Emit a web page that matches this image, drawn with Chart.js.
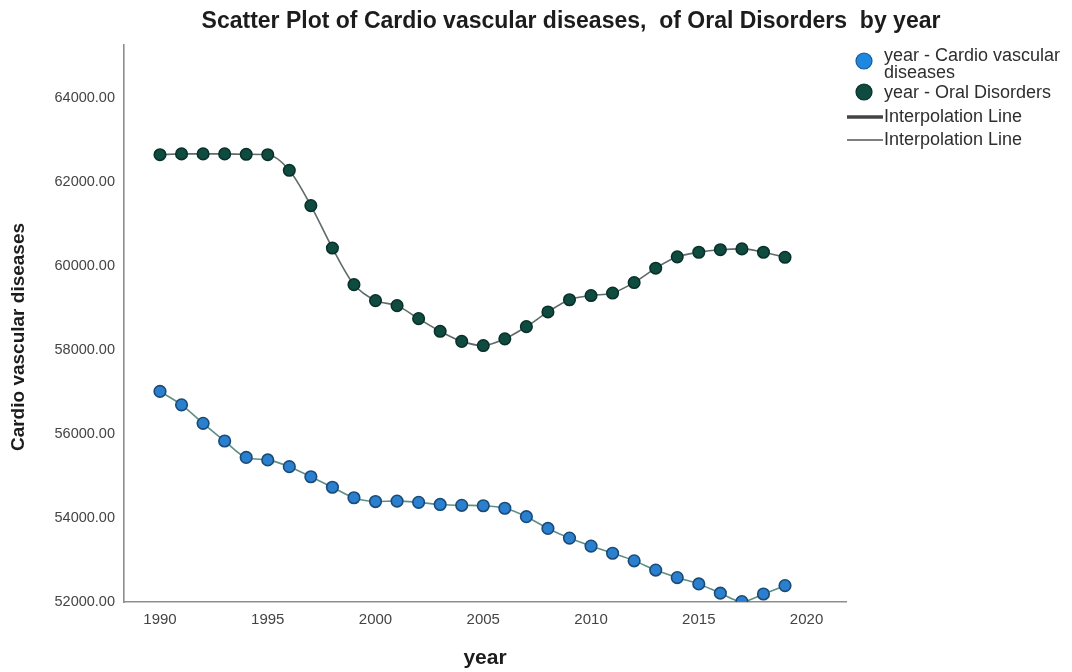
<!DOCTYPE html>
<html>
<head>
<meta charset="utf-8">
<script src="https://cdn.jsdelivr.net/npm/chart.js@4.4.1/dist/chart.umd.min.js"></script>
<style>
html,body{margin:0;padding:0;background:#ffffff;}
canvas{display:block;}
</style>
</head>
<body>
<canvas id="c" width="1072" height="672"></canvas>
<script>
// ---- data ----
const years = [1990,1991,1992,1993,1994,1995,1996,1997,1998,1999,2000,2001,2002,2003,2004,2005,2006,2007,2008,2009,2010,2011,2012,2013,2014,2015,2016,2017,2018,2019];
const cardio = [57010,56690,56250,55830,55440,55380,55220,54980,54730,54480,54390,54400,54370,54320,54300,54290,54230,54030,53750,53520,53330,53160,52980,52760,52580,52430,52210,52010,52190,52390];
const oral = [62640,62660,62660,62660,62650,62640,62270,61430,60420,59550,59170,59050,58740,58440,58200,58100,58260,58550,58900,59190,59290,59350,59600,59940,60210,60320,60380,60400,60320,60200];
const yTicks = [52000,54000,56000,58000,60000,62000,64000];
const xTicks = [1990,1995,2000,2005,2010,2015,2020];
const titleText = 'Scatter Plot of Cardio vascular diseases,  of Oral Disorders  by year';
const xTitle = 'year';
const yTitle = 'Cardio vascular diseases';
const legendSeries = [['year - Cardio vascular', 'diseases'], ['year - Oral Disorders']];
const legendLines = ['Interpolation Line', 'Interpolation Line'];

const FONT = "'Liberation Sans', Arial, sans-serif";
const cardioFill = '#2a7fce', cardioEdge = '#1a4a76', cardioLine = '#5e8f87';
const oralFill = '#0f4b3f', oralEdge = '#07302a', oralLine = '#5f6b69';

const pts = (vals) => years.map((y, i) => ({x: y, y: vals[i]}));

const decor = {
  id: 'decor',
  afterDraw(chart) {
    const ctx = chart.ctx;
    ctx.save();
    // title
    ctx.fillStyle = '#1c1c1c';
    ctx.font = 'bold 23px ' + FONT;
    ctx.textAlign = 'center';
    ctx.textBaseline = 'middle';
    ctx.fillText(titleText, 571, 22);
    // y axis title
    ctx.save();
    ctx.translate(19, 337);
    ctx.rotate(-Math.PI / 2);
    ctx.font = 'bold 19px ' + FONT;
    ctx.fillText(yTitle, 0, 0);
    ctx.restore();
    // legend
    ctx.textAlign = 'left';
    ctx.font = '18px ' + FONT;
    const lx = 864, tx = 884;
    // series 1
    ctx.beginPath(); ctx.arc(lx, 61, 8, 0, Math.PI*2);
    ctx.fillStyle = '#1e88e0'; ctx.fill();
    ctx.lineWidth = 1.2; ctx.strokeStyle = '#1a5a96'; ctx.stroke();
    ctx.fillStyle = '#2e2e2e';
    ctx.fillText(legendSeries[0][0], tx, 56);
    ctx.fillText(legendSeries[0][1], tx, 73);
    // series 2
    ctx.beginPath(); ctx.arc(lx, 92, 8, 0, Math.PI*2);
    ctx.fillStyle = oralFill; ctx.fill();
    ctx.lineWidth = 1.2; ctx.strokeStyle = oralEdge; ctx.stroke();
    ctx.fillStyle = '#2e2e2e';
    ctx.fillText(legendSeries[1][0], tx, 93);
    // lines
    ctx.beginPath(); ctx.moveTo(847, 117); ctx.lineTo(883, 117);
    ctx.lineWidth = 3.5; ctx.strokeStyle = '#444'; ctx.stroke();
    ctx.fillText(legendLines[0], tx, 117);
    ctx.beginPath(); ctx.moveTo(847, 140); ctx.lineTo(883, 140);
    ctx.lineWidth = 1.5; ctx.strokeStyle = '#555'; ctx.stroke();
    ctx.fillText(legendLines[1], tx, 140);
    ctx.restore();
  }
};

new Chart(document.getElementById('c'), {
  type: 'line',
  data: {
    datasets: [
      {
        label: 'year - Oral Disorders',
        data: pts(oral),
        borderColor: oralLine,
        borderWidth: 1.6,
        pointBackgroundColor: oralFill,
        pointBorderColor: oralEdge,
        pointBorderWidth: 1.5,
        pointRadius: 5.8,
        cubicInterpolationMode: 'monotone',
        clip: 0
      },
      {
        label: 'year - Cardio vascular diseases',
        data: pts(cardio),
        borderColor: cardioLine,
        borderWidth: 1.6,
        pointBackgroundColor: cardioFill,
        pointBorderColor: cardioEdge,
        pointBorderWidth: 1.6,
        pointRadius: 5.8,
        cubicInterpolationMode: 'monotone',
        clip: 0
      }
    ]
  },
  options: {
    responsive: false,
    animation: false,
    events: [],
    layout: {padding: {top: 45, right: 226, bottom: 0, left: 0}},
    plugins: {legend: {display: false}, tooltip: {enabled: false}, title: {display: false}},
    scales: {
      x: {
        type: 'linear',
        min: 1988.33,
        max: 2021.83,
        afterBuildTicks: (s) => { s.ticks = xTicks.map(v => ({value: v})); },
        afterFit: (s) => { s.height = 70; },
        grid: {display: false, drawTicks: false},
        border: {display: true, color: '#8e8e8e', width: 1.6},
        ticks: {
          padding: 9,
          color: '#444',
          font: {family: FONT, size: 15},
          callback: (v) => String(v),
          maxRotation: 0,
          autoSkip: false
        },
        title: {display: true, text: xTitle, color: '#1c1c1c', font: {family: FONT, size: 21, weight: 'bold'}, padding: {top: 0, bottom: 1}}
      },
      y: {
        type: 'linear',
        min: 52000,
        max: 65250,
        afterBuildTicks: (s) => { s.ticks = yTicks.map(v => ({value: v})); },
        afterFit: (s) => { s.width = 124; },
        grid: {display: false, drawTicks: false},
        border: {display: true, color: '#8e8e8e', width: 1.6},
        ticks: {
          padding: 9,
          color: '#444',
          font: {family: FONT, size: 14.5},
          callback: (v) => Number(v).toFixed(2),
          autoSkip: false
        },
        title: {display: false}
      }
    }
  },
  plugins: [decor]
});
</script>
</body>
</html>
